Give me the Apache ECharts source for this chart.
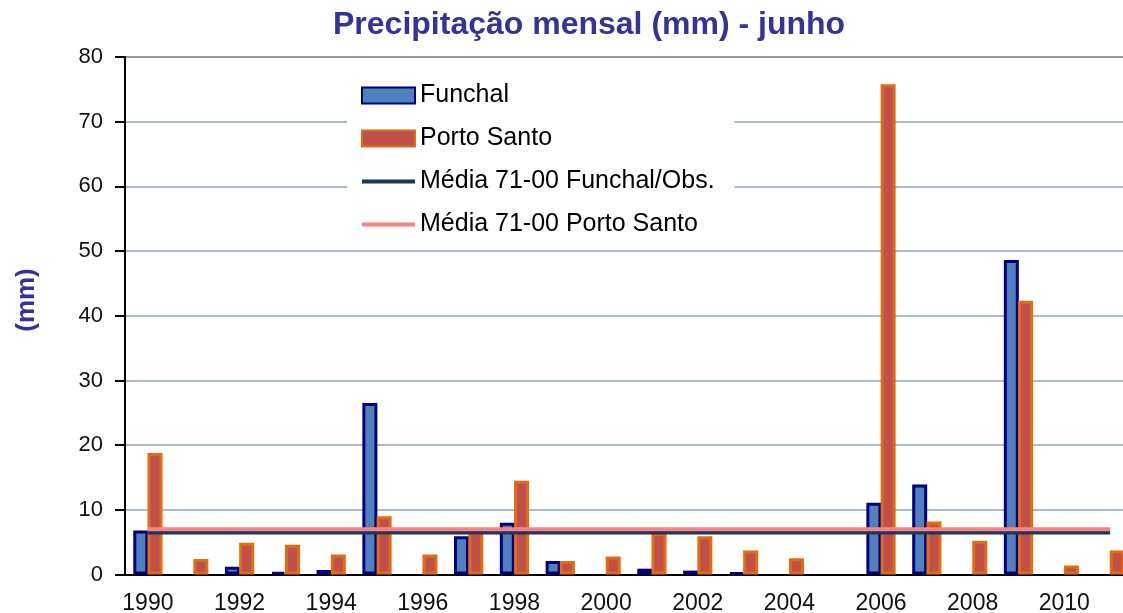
<!DOCTYPE html>
<html>
<head>
<meta charset="utf-8">
<script src="https://cdn.jsdelivr.net/npm/echarts@6/dist/echarts.min.js"></script>
<style>
  html, body { margin: 0; padding: 0; background: #fff; }
  #chart { width: 1123px; height: 613px; }
</style>
</head>
<body>
<div id="chart"></div>
<script>
// anos (categorias)
var anos = ['1990', '1991', '1992', '1993', '1994', '1995', '1996', '1997', '1998', '1999', '2000',
  '2001', '2002', '2003', '2004', '2005', '2006', '2007', '2008', '2009', '2010', '2011'];

// precipitação de junho (mm)
var funchal = [6.8, 0, 1.2, 0.4, 0.7, 26.5, 0, 5.9, 8.0, 2.1, 0,
  0.9, 0.6, 0.3, 0, 0, 11.1, 13.9, 0, 48.6, 0, 0];
var portoSanto = [18.8, 2.4, 4.9, 4.6, 3.1, 9.0, 3.1, 6.6, 14.5, 2.1, 2.8,
  6.4, 5.9, 3.7, 2.5, 0, 75.8, 8.2, 5.2, 42.3, 1.4, 3.7];

// médias 71-00
var mediaFunchal = [6.5, 6.5, 6.5, 6.5, 6.5, 6.5, 6.5, 6.5, 6.5, 6.5, 6.5,
  6.5, 6.5, 6.5, 6.5, 6.5, 6.5, 6.5, 6.5, 6.5, 6.5, 6.5];
var mediaPortoSanto = [7.0, 7.0, 7.0, 7.0, 7.0, 7.0, 7.0, 7.0, 7.0, 7.0, 7.0,
  7.0, 7.0, 7.0, 7.0, 7.0, 7.0, 7.0, 7.0, 7.0, 7.0, 7.0];

var fonte = "'Liberation Sans', Arial, sans-serif";

// no Excel as barras com 0 mm não aparecem
function semZeros(arr) {
  return arr.map(function (v) { return v === 0 ? '-' : v; });
}

var myChart = echarts.init(document.getElementById('chart'));

var option = {
  animation: false,
  backgroundColor: '#fff',
  textStyle: { fontFamily: fonte },
  title: {
    text: 'Precipitação mensal (mm) - junho',
    left: 333,
    top: 9,
    padding: 0,
    textStyle: { fontFamily: fonte, fontSize: 32, fontWeight: 'bold', color: '#333399' }
  },
  grid: {
    left: 125,
    top: 57,
    width: 1008,
    height: 517.5,
    outerBoundsMode: 'none'
  },
  legend: {
    orient: 'vertical',
    left: 347,
    top: 73,
    padding: [10, 20, 5, 13],
    itemWidth: 53,
    itemHeight: 16,
    itemGap: 18,
    backgroundColor: '#fff',
    textStyle: { fontFamily: fonte, fontSize: 25, color: '#000' },
    data: [
      { name: 'Funchal', icon: 'rect' },
      { name: 'Porto Santo', icon: 'rect' },
      { name: 'Média 71-00 Funchal/Obs.', itemStyle: { opacity: 0 }, lineStyle: { width: 4 } },
      { name: 'Média 71-00 Porto Santo', itemStyle: { opacity: 0 }, lineStyle: { width: 4 } }
    ]
  },
  xAxis: {
    type: 'category',
    data: anos,
    boundaryGap: true,
    axisLine: { lineStyle: { color: '#000', width: 2 } },
    axisTick: { interval: 0, length: 9, lineStyle: { color: '#000', width: 2 } },
    axisLabel: { interval: 1, margin: 18, fontFamily: fonte, fontSize: 23, color: '#111' },
    splitLine: { show: false }
  },
  yAxis: {
    type: 'value',
    min: 0,
    max: 80,
    interval: 10,
    axisLine: { show: true, lineStyle: { color: '#000', width: 2 } },
    axisTick: { show: true, length: 10, lineStyle: { color: '#000', width: 2 } },
    axisLabel: { margin: 22, fontFamily: fonte, fontSize: 22, color: '#111' },
    splitLine: {
      show: true,
      lineStyle: {
        width: 2,
        color: ['#a9bad3', '#a9bad3', '#a9bad3', '#a9bad3', '#a9bad3', '#a9bad3', '#a9bad3', '#a9bad3', '#9a9a9a']
      }
    }
  },
  graphic: [{
    type: 'text',
    x: 27,
    y: 300,
    rotation: Math.PI / 2,
    style: {
      text: '(mm)',
      fontFamily: fonte,
      fontSize: 26,
      fontWeight: 'bold',
      fill: '#333399',
      align: 'center',
      verticalAlign: 'middle'
    }
  }],
  series: [
    {
      name: 'Funchal',
      type: 'bar',
      data: semZeros(funchal),
      barWidth: 15,
      barGap: '-5%',
      itemStyle: { color: '#4f81bd', borderColor: '#000080', borderWidth: 3 },
      z: 2
    },
    {
      name: 'Porto Santo',
      type: 'bar',
      data: semZeros(portoSanto),
      barWidth: 15,
      barGap: '-5%',
      itemStyle: { color: '#c0504d', borderColor: '#e46c0a', borderWidth: 3 },
      z: 3
    },
    {
      name: 'Média 71-00 Funchal/Obs.',
      type: 'line',
      data: mediaFunchal,
      symbol: 'none',
      lineStyle: { color: '#17375e', width: 4 },
      itemStyle: { color: '#17375e' },
      z: 4
    },
    {
      name: 'Média 71-00 Porto Santo',
      type: 'line',
      data: mediaPortoSanto,
      symbol: 'none',
      lineStyle: { color: '#ff8080', width: 4 },
      itemStyle: { color: '#ff8080' },
      z: 5
    }
  ]
};

myChart.setOption(option);
</script>
</body>
</html>
